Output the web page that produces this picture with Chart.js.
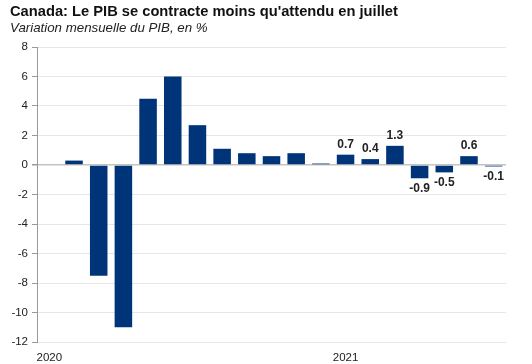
<!DOCTYPE html>
<html lang="fr">
<head>
<meta charset="UTF-8">
<title>Canada PIB</title>
<script src="https://cdn.jsdelivr.net/npm/chart.js"></script>
<style>
  body { margin: 0; background: #fff; font-family: "Liberation Sans", Arial, sans-serif; }
  .wrap { position: relative; width: 532px; height: 364px; }
  .title { position: absolute; left: 10px; top: 3px; font-size: 14.7px; font-weight: bold; color: #111; }
  .sub { position: absolute; left: 10px; top: 20px; font-size: 13.3px; font-style: italic; color: #222; }
  canvas { position: absolute; left: 0; top: 0; }
</style>
</head>
<body>
<div class="wrap">
  <canvas id="chart" width="532" height="364"></canvas>
  <div class="title">Canada: Le PIB se contracte moins qu'attendu en juillet</div>
  <div class="sub">Variation mensuelle du PIB, en %</div>
</div>
<script>
  // months jan 2020 -> jul 2021
  const months = ["2020-01", "2020-02", "2020-03", "2020-04", "2020-05", "2020-06", "2020-07",
    "2020-08", "2020-09", "2020-10", "2020-11", "2020-12", "2021-01", "2021-02", "2021-03",
    "2021-04", "2021-05", "2021-06", "2021-07"];
  const gdpChange = [null, 0.3, -7.5, -11, 4.5, 6.0, 2.7, 1.1, 0.8, 0.6, 0.8, 0.1,
    0.7, 0.4, 1.3, -0.9, -0.5, 0.6, -0.1];
  // only 2021 values get a label
  const labelFrom = 12;
  const yTicks = [8, 6, 4, 2, 0, -2, -4, -6, -8, -10, -12];

  const valueLabels = {
    id: "valueLabels",
    afterDatasetsDraw(chart) {
      const c = chart.ctx;
      const meta = chart.getDatasetMeta(0);
      c.save();
      c.font = "bold 12px 'Liberation Sans', Arial, sans-serif";
      c.fillStyle = "#222";
      c.textAlign = "center";
      meta.data.forEach((bar, i) => {
        const v = gdpChange[i];
        if (i < labelFrom || v == null) return;
        if (v >= 0) {
          c.textBaseline = "bottom";
          c.fillText(v.toFixed(1), bar.x, bar.y - 4);
        } else {
          c.textBaseline = "top";
          c.fillText(v.toFixed(1), bar.x, bar.y + 4);
        }
      });
      c.restore();
    }
  };

  new Chart(document.getElementById("chart"), {
    type: "bar",
    data: {
      labels: months,
      datasets: [{
        data: gdpChange,
        backgroundColor: "#003479",
        barPercentage: 0.71,
        categoryPercentage: 1
      }]
    },
    options: {
      responsive: false,
      animation: false,
      layout: { padding: { top: 47, right: 26, bottom: 0, left: 0 } },
      plugins: { legend: { display: false }, tooltip: { enabled: false } },
      scales: {
        x: {
          grid: { display: false },
          border: { display: false },
          ticks: {
            autoSkip: false,
            maxRotation: 0,
            color: "#222",
            font: { family: "'Liberation Sans', Arial, sans-serif", size: 11.5 },
            padding: 1,
            callback: (v, i) => (i === 0 || i === 12) ? months[i].slice(0, 4) : ""
          },
          afterFit: s => { s.height = 22; }
        },
        y: {
          min: -12,
          max: 8,
          afterBuildTicks: s => { s.ticks = yTicks.map(v => ({ value: v })); },
          grid: {
            color: ctx => ctx.tick && ctx.tick.value === 0 ? "#c4c4c4" : "#e6e6e6",
            lineWidth: ctx => ctx.tick && ctx.tick.value === 0 ? 1.5 : 1,
            tickColor: "#999",
            tickLength: 5
          },
          border: { color: "#999" },
          ticks: {
            color: "#222",
            font: { family: "'Liberation Sans', Arial, sans-serif", size: 11.5 },
            padding: 4
          },
          afterFit: s => { s.width = 37; }
        }
      }
    },
    plugins: [valueLabels]
  });
</script>
</body>
</html>
